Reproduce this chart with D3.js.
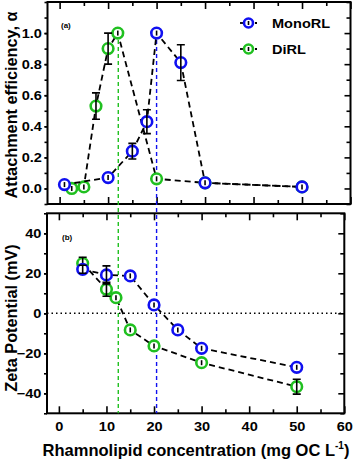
<!DOCTYPE html>
<html>
<head>
<meta charset="utf-8">
<script src="https://cdn.jsdelivr.net/npm/d3@7"></script>
<style>
  body { margin: 0; background: #fff; }
  svg { display: block; font-family: "Liberation Sans", Arial, sans-serif; font-weight: bold; }
</style>
</head>
<body>
<svg id="chart" width="354" height="461"></svg>
<script>
// ---- data ----
var monoAlphaX   = [1, 10, 15, 18, 20, 25, 30, 50];
var monoAlpha    = [0.025, 0.07, 0.24, 0.43, 1.0, 0.81, 0.036, 0.01];
var monoAlphaErr = [0.01, 0.01, 0.05, 0.077, 0.01, 0.115, 0.01, 0.01];

var diAlphaX     = [2.5, 5, 7.5, 10, 12, 20, 30, 50];
var diAlpha      = [0.0, 0.01, 0.53, 0.9, 1.0, 0.062, 0.036, 0.01];
var diAlphaErr   = [0.005, 0.01, 0.085, 0.1, 0.005, 0.01, 0.01, 0.01];

var monoZetaX    = [5, 10, 15, 20, 25, 30, 50];
var monoZeta     = [22, 19.2, 18.7, 4.2, -8.3, -17.5, -27];
var monoZetaErr  = [2, 4.5, 1, 1, 1, 1, 1];

var diZetaX      = [5, 10, 12, 15, 20, 30, 50];
var diZeta       = [25, 12, 7.8, -8.3, -16.3, -24.7, -36.7];
var diZetaErr    = [3, 3.5, 1, 1, 1, 1, 3.7];

var cmcLines     = [12.1, 20];           // vertical dashed markers (green, blue)
var xTicks       = [0, 10, 20, 30, 40, 50, 60];
var alphaTicks   = [0, 0.2, 0.4, 0.6, 0.8, 1.0];
var zetaTicks    = [-40, -20, 0, 20, 40];
var seriesNames  = ["MonoRL", "DiRL"];

var blue = "#1010f0", green = "#20c020";
var stretch = "scale(1.12,1)"; // original figure text is a bit wide

var svg = d3.select("#chart");

// scales - the two panels are slightly different widths in the original
var xA = d3.scaleLinear().domain([-2.5, 60]).range([47.5, 350.5]);
var yA = d3.scaleLinear().domain([-0.1, 1.2]).range([204, 2]);
var xB = d3.scaleLinear().domain([-2.5, 60]).range([47, 344.3]);
var yB = d3.scaleLinear().domain([-50, 50]).range([413.3, 213.3]);

function fmt1(d) { return d3.format(".1f")(d); }

function panel(x, y, opts) {
    var g = svg.append("g");
    var x0 = x.range()[0], x1 = x.range()[1], y0 = y.range()[0], y1 = y.range()[1];

    // minor + major ticks on all four sides
    var minorX = d3.range(0, 61, 5);
    g.append("g").attr("transform", "translate(0," + y0 + ")")
        .call(d3.axisTop(x).tickValues(minorX).tickSize(0).tickFormat(""))
        .call(function (s) {
            s.selectAll(".tick line").attr("y2", function (d) { return d % 10 === 0 ? -7 : -4; });
        });
    g.append("g").attr("transform", "translate(0," + y1 + ")")
        .call(d3.axisBottom(x).tickValues(minorX).tickSize(0).tickFormat(""))
        .call(function (s) {
            s.selectAll(".tick line").attr("y2", function (d) { return d % 10 === 0 ? 7 : 4; });
        });

    // left axis: outward ticks with labels
    g.append("g").attr("transform", "translate(" + x0 + ",0)")
        .call(d3.axisLeft(y).tickValues(opts.minorY).tickSize(3).tickFormat(""));
    g.append("g").attr("transform", "translate(" + x0 + ",0)")
        .call(d3.axisLeft(y).tickValues(opts.majorY).tickSize(3).tickPadding(2).tickFormat(opts.fmt))
        .call(function (s) {
            s.selectAll("text").attr("font-size", 13).attr("font-weight", "bold")
                .attr("fill", "#000").attr("transform", stretch);
        });

    // right axis: inward ticks
    g.append("g").attr("transform", "translate(" + x1 + ",0)")
        .call(d3.axisLeft(y).tickValues(opts.minorY).tickSize(0).tickFormat(""))
        .call(function (s) {
            s.selectAll(".tick line").attr("x2", function (d) {
                return opts.majorY.some(function (m) { return Math.abs(m - d) < 1e-9; }) ? -6 : -4;
            });
        });

    g.selectAll(".domain").remove();
    g.selectAll(".tick line").attr("stroke", "#000").attr("stroke-width", 1.6);

    g.append("rect")
        .attr("x", x0).attr("y", y1)
        .attr("width", x1 - x0).attr("height", y0 - y1)
        .attr("fill", "none").attr("stroke", "#000").attr("stroke-width", 2);
    return g;
}

panel(xA, yA, {
    minorY: d3.range(-0.1, 1.21, 0.1).map(function (d) { return Math.round(d * 10) / 10; }),
    majorY: alphaTicks, fmt: fmt1
});
panel(xB, yB, {
    minorY: d3.range(-50, 51, 10), majorY: zetaTicks, fmt: d3.format("d")
});

// bottom x labels
svg.append("g").attr("transform", "translate(0," + yB.range()[0] + ")")
    .call(d3.axisBottom(xB).tickValues(xTicks).tickSize(0).tickPadding(8.5))
    .call(function (s) {
        s.select(".domain").remove();
        s.selectAll("text").attr("font-size", 13).attr("font-weight", "bold")
            .attr("fill", "#000").attr("transform", stretch);
    });

// zero line in zeta panel
svg.append("line")
    .attr("x1", xB.range()[0]).attr("x2", xB.range()[1])
    .attr("y1", yB(0)).attr("y2", yB(0))
    .attr("stroke", "#000").attr("stroke-width", 1.5).attr("stroke-dasharray", "1.5,3");

// vertical dashed markers through both panels
[green, blue].forEach(function (c, i) {
    svg.append("line")
        .attr("x1", xA(cmcLines[i])).attr("x2", xA(cmcLines[i]))
        .attr("y1", yA(1.0)).attr("y2", yB.range()[0])
        .attr("stroke", c).attr("stroke-width", 1.4).attr("stroke-dasharray", "4,3");
});

function series(x, y, xs, ys, es, color) {
    var pts = xs.map(function (d, i) { return { x: d, y: ys[i], e: es[i] }; });
    var line = d3.line().x(function (d) { return x(d.x); }).y(function (d) { return y(d.y); });
    svg.append("path").datum(pts).attr("d", line)
        .attr("fill", "none").attr("stroke", "#000").attr("stroke-width", 1.8)
        .attr("stroke-dasharray", "6,4");
    var g = svg.append("g");
    g.selectAll("circle").data(pts).enter().append("circle")
        .attr("cx", function (d) { return x(d.x); })
        .attr("cy", function (d) { return y(d.y); })
        .attr("r", 5.3)
        .attr("fill", "#fff").attr("stroke", color).attr("stroke-width", 2.6);
    g.selectAll(".eb").data(pts).enter().append("path").attr("class", "eb")
        .attr("d", function (d) {
            var cx = x(d.x), hi = y(d.y + d.e), lo = y(d.y - d.e), cy = y(d.y);
            if (cy - hi < 2.5) { hi = cy - 2.5; lo = cy + 2.5; return "M" + cx + "," + hi + "V" + lo; }
            return "M" + cx + "," + hi + "V" + lo +
                "M" + (cx - 4) + "," + hi + "H" + (cx + 4) +
                "M" + (cx - 4) + "," + lo + "H" + (cx + 4);
        })
        .attr("fill", "none").attr("stroke", "#000").attr("stroke-width", 1.6);
}

series(xA, yA, diAlphaX, diAlpha, diAlphaErr, green);
series(xA, yA, monoAlphaX, monoAlpha, monoAlphaErr, blue);
series(xB, yB, diZetaX, diZeta, diZetaErr, green);
series(xB, yB, monoZetaX, monoZeta, monoZetaErr, blue);

// legend
var leg = svg.append("g").attr("transform", "translate(240,23)");
[blue, green].forEach(function (c, i) {
    var r = leg.append("g").attr("transform", "translate(0," + (i * 26) + ")");
    r.append("line").attr("x1", 0).attr("x2", 5).attr("stroke", "#000").attr("stroke-width", 1.8);
    r.append("line").attr("x1", 15).attr("x2", 17).attr("stroke", "#000").attr("stroke-width", 1.8);
    r.append("circle").attr("cx", 8.5).attr("r", 4.5).attr("fill", "#fff")
        .attr("stroke", c).attr("stroke-width", 2.6);
    r.append("line").attr("x1", 8.5).attr("x2", 8.5).attr("y1", -2).attr("y2", 2)
        .attr("stroke", "#000").attr("stroke-width", 1.6);
    r.append("text").attr("x", 32 / 1.12).attr("y", 4.8).attr("font-size", 13)
        .attr("transform", stretch).text(seriesNames[i]);
});

// panel tags
svg.append("text").attr("x", 61).attr("y", 28).attr("font-size", 8).text("(a)");
svg.append("text").attr("x", 62).attr("y", 240).attr("font-size", 8).text("(b)");

// axis titles
svg.append("text").attr("transform", "translate(16.5," + ((yA.range()[0] + yA.range()[1]) / 2 + 2) + ") rotate(-90)")
    .attr("text-anchor", "middle").attr("font-size", 16.3)
    .text("Attachment efficiency, α");
svg.append("text").attr("transform", "translate(16.5,318) rotate(-90)")
    .attr("text-anchor", "middle").attr("font-size", 16.3)
    .text("Zeta Potential (mV)");
var xt = svg.append("text").attr("x", 196).attr("y", 455.5)
    .attr("text-anchor", "middle").attr("font-size", 16.5);
xt.append("tspan").text("Rhamnolipid concentration (mg OC L");
xt.append("tspan").attr("font-size", 10).attr("dy", -7).text("-1");
xt.append("tspan").attr("dy", 7).text(")");
</script>
</body>
</html>
